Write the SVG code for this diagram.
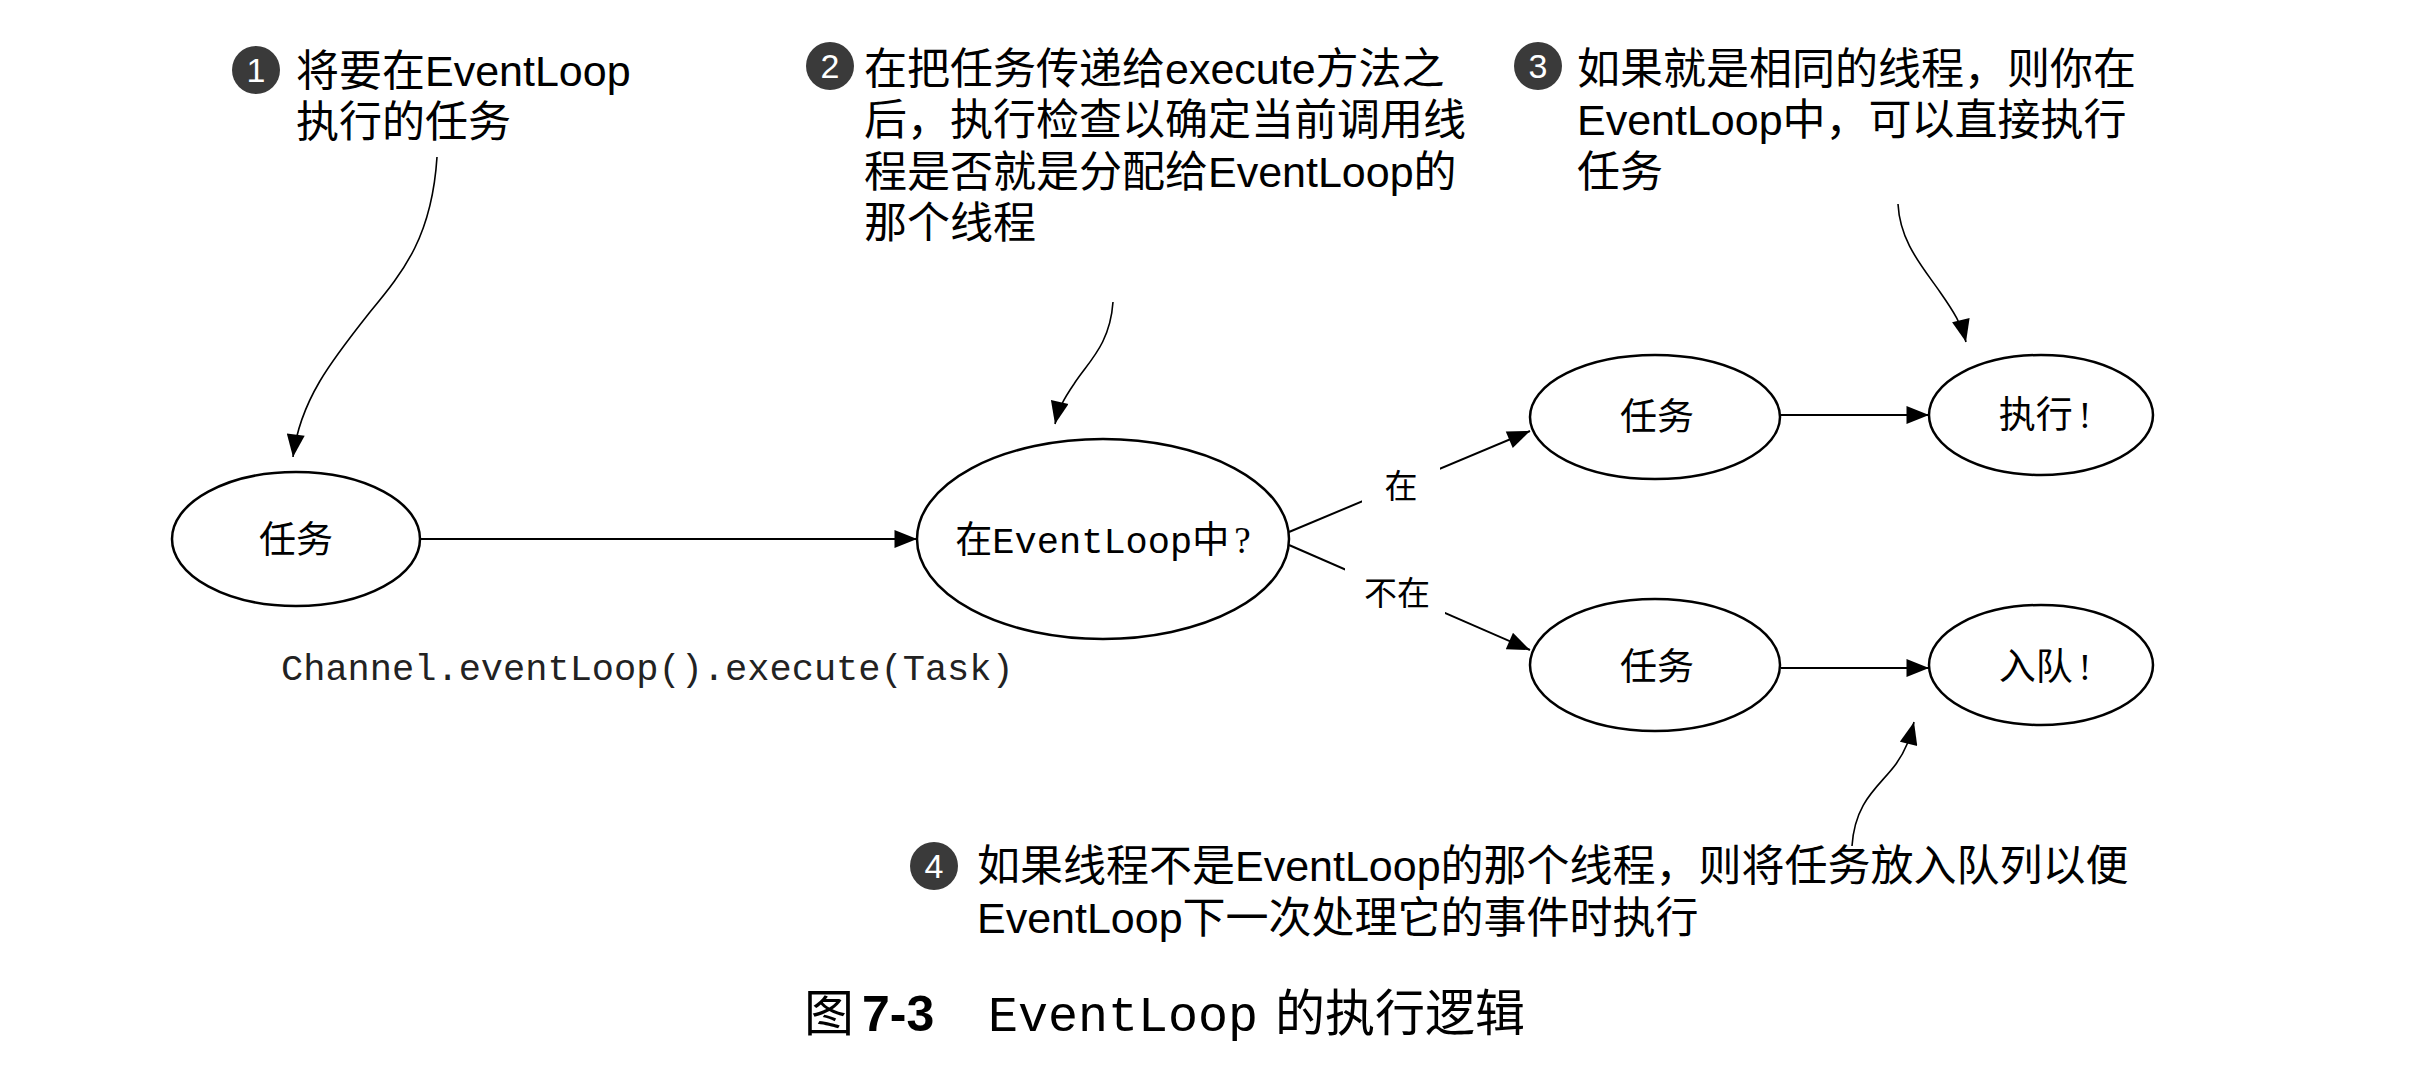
<svg xmlns="http://www.w3.org/2000/svg" width="2420" height="1074" viewBox="0 0 2420 1074">
<defs>
<marker id="ah" viewBox="0 0 10 8" refX="10" refY="4" markerUnits="userSpaceOnUse" markerWidth="30" markerHeight="18" orient="auto">
<path d="M0,0 L10,4 L0,8 z" fill="#000"/>
</marker>
<marker id="ahc" viewBox="0 0 10 8" refX="10" refY="4" markerUnits="userSpaceOnUse" markerWidth="26" markerHeight="18" orient="auto">
<path d="M0,0 L10,4 L0,8 z" fill="#000"/>
</marker>
<style>
.node{fill:#fff;stroke:#000;stroke-width:2.5}
.nl{font-family:"Liberation Serif","Noto Sans CJK SC",serif;font-size:37px;fill:#000;text-anchor:middle}
.mono{font-family:"Liberation Mono","Noto Sans CJK SC",monospace}
.edge{fill:none;stroke:#000;stroke-width:2}
.call{fill:none;stroke:#000;stroke-width:1.6}
.note{font-family:"Liberation Sans","Noto Sans CJK SC",sans-serif;font-size:43px;fill:#000}
.badge{fill:#3a3a3a}
.bn{font-family:"Liberation Sans",sans-serif;font-size:34px;fill:#fff;text-anchor:middle}
.el{font-family:"Liberation Serif","Noto Sans CJK SC",serif;font-size:33px;fill:#000;text-anchor:middle}
</style>
</defs>
<rect width="2420" height="1074" fill="#fff"/>

<g id="connectors">
<path class="edge" d="M420,539 L917,539" marker-end="url(#ah)"/>
<path class="edge" d="M1289,532 L1530,431" marker-end="url(#ah)"/>
<path class="edge" d="M1289,545 L1530,650" marker-end="url(#ah)"/>
<path class="edge" d="M1781,415 L1929,415" marker-end="url(#ah)"/>
<path class="edge" d="M1781,668 L1929,668" marker-end="url(#ah)"/>
<rect x="1362" y="462" width="78" height="50" fill="#fff"/>
<text class="el" x="1401" y="498">在</text>
<rect x="1345" y="568" width="100" height="50" fill="#fff"/>
<text class="el" x="1397" y="605">不在</text>
<path class="call" d="M437,157 C432,235 405,270 370,312 C332,360 300,400 293,457" marker-end="url(#ahc)"/>
<path class="call" d="M1113,302 C1110,345 1088,362 1074,384 C1063,400 1058,410 1055,424" marker-end="url(#ahc)"/>
<path class="call" d="M1898,204 C1900,242 1922,266 1940,292 C1954,312 1962,325 1966,342" marker-end="url(#ahc)"/>
<path class="call" d="M1852,846 C1855,800 1880,786 1896,764 C1906,750 1910,738 1914,722" marker-end="url(#ahc)"/>
</g>

<g id="node-task">
<ellipse class="node" cx="296" cy="539" rx="124" ry="67"/>
<text class="nl" x="296" y="553">任务</text>
</g>
<g id="node-in-eventloop">
<ellipse class="node" cx="1103" cy="539" rx="186" ry="100"/>
<text class="nl" x="1103" y="553" font-size="35">在<tspan class="mono">EventLoop</tspan>中<tspan dx="5">?</tspan></text>
</g>
<g id="node-task-yes">
<ellipse class="node" cx="1655" cy="417" rx="125" ry="62"/>
<text class="nl" x="1657" y="430">任务</text>
</g>
<g id="node-execute">
<ellipse class="node" cx="2041" cy="415" rx="112" ry="60"/>
<text class="nl" x="2045" y="428">执行<tspan dx="6">!</tspan></text>
</g>
<g id="node-task-no">
<ellipse class="node" cx="1655" cy="665" rx="125" ry="66"/>
<text class="nl" x="1657" y="680">任务</text>
</g>
<g id="node-enqueue">
<ellipse class="node" cx="2041" cy="665" rx="112" ry="60"/>
<text class="nl" x="2045" y="680">入队<tspan dx="6">!</tspan></text>
</g>

<g id="code-label">
<text class="mono" x="281" y="680" font-size="37" fill="#222">Channel.eventLoop().execute(Task)</text>
</g>

<g id="note1">
<circle class="badge" cx="256" cy="70" r="24"/>
<text class="bn" x="256" y="82">1</text>
<text class="note" x="296" y="86">将要在EventLoop</text>
<text class="note" x="296" y="137">执行的任务</text>
</g>
<g id="note2">
<circle class="badge" cx="830" cy="66" r="24"/>
<text class="bn" x="830" y="78">2</text>
<text class="note" x="864" y="84">在把任务传递给execute方法之</text>
<text class="note" x="864" y="135">后，执行检查以确定当前调用线</text>
<text class="note" x="864" y="187">程是否就是分配给EventLoop的</text>
<text class="note" x="864" y="238">那个线程</text>
</g>
<g id="note3">
<circle class="badge" cx="1538" cy="66" r="24"/>
<text class="bn" x="1538" y="78">3</text>
<text class="note" x="1577" y="84">如果就是相同的线程，则你在</text>
<text class="note" x="1577" y="135">EventLoop中，可以直接执行</text>
<text class="note" x="1577" y="187">任务</text>
</g>
<g id="note4">
<circle class="badge" cx="934" cy="866" r="24"/>
<text class="bn" x="934" y="878">4</text>
<text class="note" x="977" y="881">如果线程不是EventLoop的那个线程，则将任务放入队列以便</text>
<text class="note" x="977" y="933">EventLoop下一次处理它的事件时执行</text>
</g>

<g id="caption">
<text y="1031" font-size="50" fill="#000"><tspan x="804" font-family="Noto Sans CJK SC, sans-serif">图</tspan><tspan x="862" font-family="Liberation Sans, sans-serif" font-weight="bold">7-3</tspan><tspan x="988" font-family="Liberation Mono, monospace">EventLoop</tspan><tspan x="1275" font-family="Noto Sans CJK SC, sans-serif">的执行逻辑</tspan></text>
</g>
</svg>
